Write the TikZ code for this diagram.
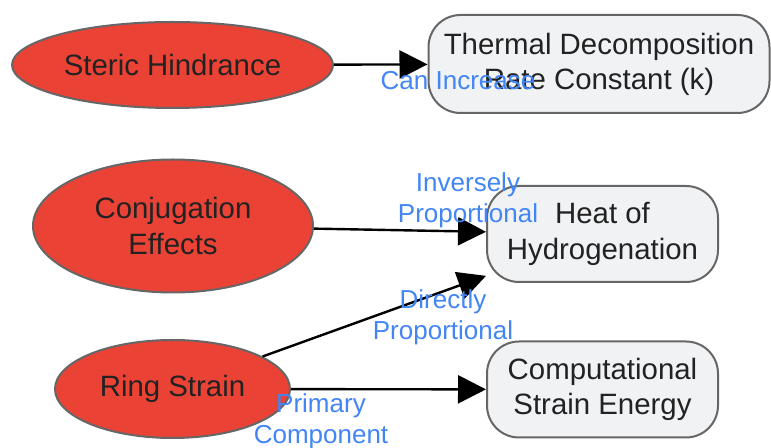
\documentclass[tikz,border=0pt]{standalone}
\usepackage{fontspec}
\setmainfont{Liberation Sans}
\usetikzlibrary{shapes.geometric, arrows.meta}
\definecolor{factred}{HTML}{EA4335}
\definecolor{edgegray}{HTML}{666666}
\definecolor{boxgray}{HTML}{F1F2F4}
\definecolor{textdark}{HTML}{222222}
\definecolor{linkblue}{HTML}{4285F4}

\begin{document}
\begin{tikzpicture}[x=0.5pt, y=-0.5pt,
    factor/.style={ellipse, draw=edgegray, line width=1pt, fill=factred,
        text=textdark, font=\fontsize{14.7}{17.6}\selectfont, align=center, inner sep=0pt},
    quantity/.style={rectangle, rounded corners=16pt, draw=edgegray, line width=1pt,
        fill=boxgray, text=textdark, font=\fontsize{14.7}{17.6}\selectfont, align=center,
        minimum width=115.5pt, minimum height=48pt},
    link/.style={line width=1.2pt, -{Triangle[length=14pt, width=14pt]}},
    relation/.style={text=linkblue, font=\fontsize{13}{15.6}\selectfont, align=center, inner sep=0pt}]
    \useasboundingbox (0,0) rectangle (771,448);

    % causes
    \node[factor, minimum width=160.5pt, minimum height=43pt] (steric) at (172.5,65) {Steric Hindrance};
    \node[factor, minimum width=140pt, minimum height=66.5pt] (conj) at (173,226) {Conjugation\\Effects};
    \node[factor, minimum width=117.5pt, minimum height=49pt] (ring) at (172.5,389) {Ring Strain};

    % measured quantities
    \node[quantity, minimum width=170.5pt, minimum height=49pt] (thermal) at (599,64) {Thermal Decomposition\\Rate Constant (k)};
    \node[quantity] (heat) at (602.5,234) {Heat of\\Hydrogenation};
    \node[quantity] (comp) at (602.5,389.5) {Computational\\Strain Energy};

    \draw[link] (steric) -- (thermal);
    \draw[link] (conj) -- (heat);
    \draw[link] (ring) -- (heat);
    \draw[link] (ring) -- (comp);

    \node[relation] (lblcan) at (458,81) {Can Increase};
    \node[relation] (lblinv) at (468,200) {Inversely\\Proportional};
    \node[relation] (lbldir) at (443,317) {Directly\\Proportional};
    \node[relation] (lblprim) at (321,421) {Primary\\Component};
\end{tikzpicture}
\end{document}
